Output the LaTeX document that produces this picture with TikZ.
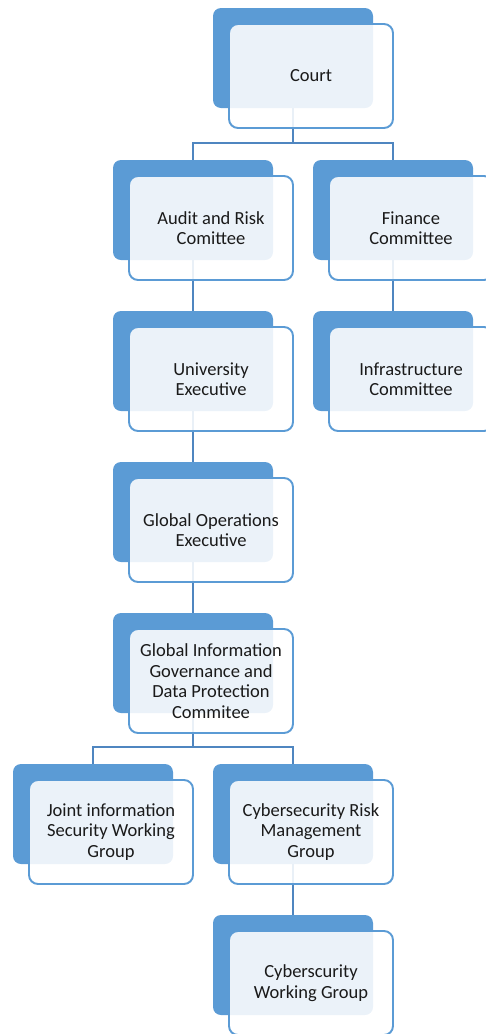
\documentclass[tikz,border=0pt]{standalone}
\usepackage{fontspec}
\setmainfont{Carlito}
\usepackage{xcolor}
\usetikzlibrary{positioning}

\definecolor{boxblue}{HTML}{5B9BD5}
\definecolor{linkblue}{HTML}{4F86C0}
\definecolor{textdark}{HTML}{1A1A1A}

\tikzset{
  back/.style={fill=boxblue, rounded corners=8pt, minimum width=160pt, minimum height=100pt, inner sep=0pt, outer sep=0pt},
  front/.style={draw=boxblue, line width=1.9pt, fill=white, fill opacity=0.88, text opacity=1, rounded corners=9pt,
    minimum width=164pt, minimum height=104pt, inner sep=0pt, align=center, text=textdark,
    font=\fontsize{18.5}{20.5}\selectfont},
  link/.style={draw=linkblue, line width=2.2pt}
}

\begin{document}
\begin{tikzpicture}[x=1pt, y=-1pt]
    \useasboundingbox (0,0) rectangle (485,1034);

    % Back panels
    \node[back] (court-b) at (293,58) {};
    \node[back] (audit-b) at (193,210) {};
    \node[back] (finance-b) at (393,210) {};
    \node[back] (uniexec-b) at (193,361) {};
    \node[back] (infra-b) at (393,361) {};
    \node[back] (globalops-b) at (193,512) {};
    \node[back] (gig-b) at (193,663) {};
    \node[back] (joint-b) at (93,814) {};
    \node[back] (cyberrisk-b) at (293,814) {};
    \node[back] (cyberwg-b) at (293,965) {};

    % Connectors
    \draw[link] (court-b.south) -- ++(0,35) -| (audit-b.north);
    \draw[link] (court-b.south) -- ++(0,35) -| (finance-b.north);
    \draw[link] (audit-b.south) -- (uniexec-b.north);
    \draw[link] (finance-b.south) -- (infra-b.north);
    \draw[link] (uniexec-b.south) -- (globalops-b.north);
    \draw[link] (globalops-b.south) -- (gig-b.north);
    \draw[link] (gig-b.south) -- ++(0,34) -| (joint-b.north);
    \draw[link] (gig-b.south) -- ++(0,34) -| (cyberrisk-b.north);
    \draw[link] (cyberrisk-b.south) -- (cyberwg-b.north);

    % Front cards
    \node[front] (court) at ([shift={(18,18)}]court-b.center) {Court};
    \node[front] (audit) at ([shift={(18,18)}]audit-b.center) {Audit and Risk\\Comittee};
    \node[front] (finance) at ([shift={(18,18)}]finance-b.center) {Finance\\Committee};
    \node[front] (uniexec) at ([shift={(18,18)}]uniexec-b.center) {University\\Executive};
    \node[front] (infra) at ([shift={(18,18)}]infra-b.center) {Infrastructure\\Committee};
    \node[front] (globalops) at ([shift={(18,18)}]globalops-b.center) {Global Operations\\Executive};
    \node[front] (gig) at ([shift={(18,18)}]gig-b.center) {Global Information\\Governance and\\Data Protection\\Commitee};
    \node[front] (joint) at ([shift={(18,18)}]joint-b.center) {Joint information\\Security Working\\Group};
    \node[front] (cyberrisk) at ([shift={(18,18)}]cyberrisk-b.center) {Cybersecurity Risk\\Management\\Group};
    \node[front] (cyberwg) at ([shift={(18,18)}]cyberwg-b.center) {Cyberscurity\\Working Group};
\end{tikzpicture}
\end{document}
